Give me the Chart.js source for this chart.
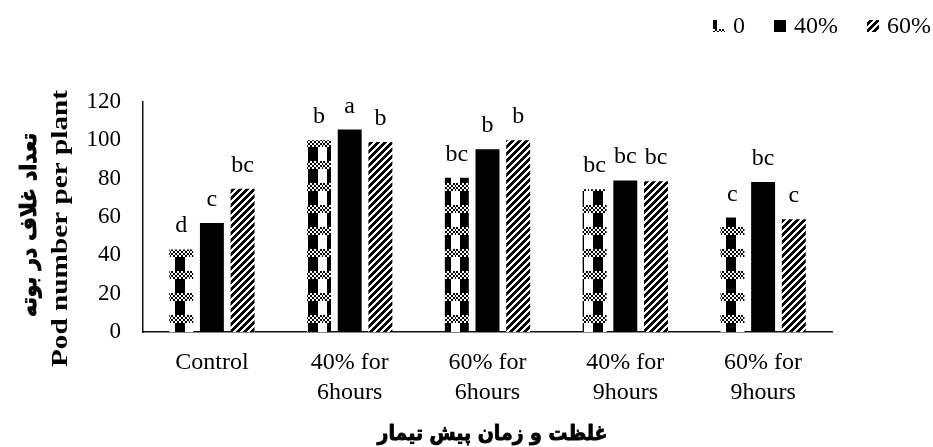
<!DOCTYPE html>
<html>
<head>
<meta charset="utf-8">
<script src="https://cdn.jsdelivr.net/npm/chart.js@4/dist/chart.umd.min.js"></script>
<style>
  html, body { margin: 0; padding: 0; background: #fff; }
  #wrap { width: 933px; height: 447px; }
  canvas { display: block; }
</style>
</head>
<body>
<div id="wrap"><canvas id="c" width="933" height="447"></canvas></div>
<script>
// Pre-treatment groups on the x axis
const categories = ['Control', ['40% for', '6hours'], ['60% for', '6hours'], ['40% for', '9hours'], ['60% for', '9hours']];
// Series (concentration)
const seriesNames = ['0', '40%', '60%'];
// Pod number per plant
const pods0  = [43.1, 100.0, 80.5, 74.5, 59.7];
const pods40 = [56.9, 105.6, 95.3, 79.1, 78.3];
const pods60 = [74.8,  99.1, 100.0, 78.6, 58.8];
// Mean-separation letters above each bar
const letters0  = ['d', 'b', 'bc', 'bc', 'c'];
const letters40 = ['c', 'a', 'b', 'bc', 'bc'];
const letters60 = ['bc', 'b', 'b', 'bc', 'c'];
// Value axis ticks
const yMin = 0, yMax = 120, yStep = 20;
// Axis titles
const yTitleEn = 'Pod number per plant';
const yTitleFa = 'تعداد غلاف در بوته';
const xTitleFa = 'غلظت و زمان پیش تیمار';

const canvas = document.getElementById('c');
const ctx = canvas.getContext('2d');

// Build a black/white fill tile pixel by pixel
function makeTile(w, h, isBlack) {
  const cv = document.createElement('canvas');
  cv.width = w; cv.height = h;
  const g = cv.getContext('2d');
  const img = g.createImageData(w, h);
  for (let y = 0; y < h; y++) {
    for (let x = 0; x < w; x++) {
      const i = (y * w + x) * 4;
      const v = isBlack(x, y) ? 0 : 255;
      img.data[i] = v; img.data[i + 1] = v; img.data[i + 2] = v; img.data[i + 3] = 255;
    }
  }
  g.putImageData(img, 0, 0);
  return cv;
}

// Vertical stripe crossed by small-checker bands
const checkerFill = ctx.createPattern(makeTile(19, 22, (x, y) => {
  const by = (y + 22 - 7) % 22;
  if (by < 8) return (((x >> 1) + (by >> 1)) % 2) === 0;
  return x >= 4 && x < 14;
}), 'repeat');
// Wide upward diagonal hatch
const hatchFill = ctx.createPattern(makeTile(7, 7, (x, y) => ((x + y) % 7) < 4), 'repeat');

const fills = [checkerFill, '#000000', hatchFill];
const letterSets = [letters0, letters40, letters60];
const serif = '"Liberation Serif", "Times New Roman", serif';
const arabic = '"DejaVu Sans", sans-serif';

// Letters above bars
const letterPlugin = {
  id: 'letters',
  afterDatasetsDraw(chart) {
    const c = chart.ctx;
    c.save();
    c.font = '24px ' + serif;
    c.fillStyle = '#000';
    c.textAlign = 'center';
    c.textBaseline = 'alphabetic';
    chart.data.datasets.forEach((ds, i) => {
      chart.getDatasetMeta(i).data.forEach((bar, j) => {
        c.fillText(letterSets[i][j], bar.x, bar.y - 17);
      });
    });
    c.restore();
  }
};

// Legend row in the top-right corner
const legendPlugin = {
  id: 'cornerLegend',
  afterDraw(chart) {
    const c = chart.ctx;
    c.save();
    c.font = '24px ' + serif;
    c.textBaseline = 'alphabetic';
    c.textAlign = 'left';
    let x = 931;
    for (let i = chart.data.datasets.length - 1; i >= 0; i--) {
      const ds = chart.data.datasets[i];
      const tw = c.measureText(ds.label).width;
      x -= tw;
      c.fillStyle = '#000';
      c.fillText(ds.label, x, 33);
      x -= 8;
      const bx = x - 12;
      c.fillStyle = ds.backgroundColor;
      c.fillRect(bx, 20, 12, 12);
      x = bx - 29;
    }
    c.restore();
  }
};

// Heavy text fitted to a given length, optionally turned upright
function drawFitted(c, text, font, x, y, len, upright, heavy) {
  c.save();
  c.font = font;
  const w = c.measureText(text).width;
  c.translate(x, y);
  if (upright) c.rotate(-Math.PI / 2);
  c.scale(len / w, 1);
  c.textAlign = 'center';
  c.textBaseline = 'alphabetic';
  c.fillStyle = '#000';
  c.fillText(text, 0, 0);
  if (heavy) {
    c.strokeStyle = '#000';
    c.lineWidth = heavy;
    c.lineJoin = 'round';
    c.strokeText(text, 0, 0);
  }
  c.restore();
}
const titlePlugin = {
  id: 'axisTitles',
  afterDraw(chart) {
    const c = chart.ctx;
    const a = chart.chartArea;
    drawFitted(c, yTitleEn, 'bold 24px ' + serif, 67, 228.5, 277, true, 0);
    drawFitted(c, yTitleFa, 'bold 22px ' + arabic, 36, 225, 184, true, 0.9);
    drawFitted(c, xTitleFa, 'bold 21px ' + arabic, (a.left + a.right) / 2 + 5, 440, 230, false, 0.9);
  }
};

new Chart(ctx, {
  type: 'bar',
  data: {
    labels: categories,
    datasets: [
      { label: seriesNames[0], data: pods0, backgroundColor: fills[0] },
      { label: seriesNames[1], data: pods40, backgroundColor: fills[1] },
      { label: seriesNames[2], data: pods60, backgroundColor: fills[2] }
    ]
  },
  options: {
    responsive: false,
    animation: false,
    devicePixelRatio: 1,
    layout: { padding: { top: 102, right: 101, left: 0, bottom: 0 } },
    datasets: { bar: { categoryPercentage: 0.668, barPercentage: 0.78, borderWidth: 0 } },
    plugins: { legend: { display: false }, tooltip: { enabled: false } },
    scales: {
      x: {
        grid: { display: false, drawTicks: false },
        border: { display: true, color: '#111', width: 1.5 },
        ticks: { color: '#000', font: { family: serif, size: 24, lineHeight: 1.25 }, padding: 16, maxRotation: 0, autoSkip: false },
        afterFit(s) { s.height = 115; }
      },
      y: {
        min: yMin, max: yMax,
        grid: { display: false, drawTicks: false },
        border: { display: true, color: '#111', width: 1.5 },
        ticks: { stepSize: yStep, color: '#000', font: { family: serif, size: 23 }, padding: 22 },
        afterFit(s) { s.width = 143; }
      }
    }
  },
  plugins: [letterPlugin, legendPlugin, titlePlugin]
});
</script>
</body>
</html>
